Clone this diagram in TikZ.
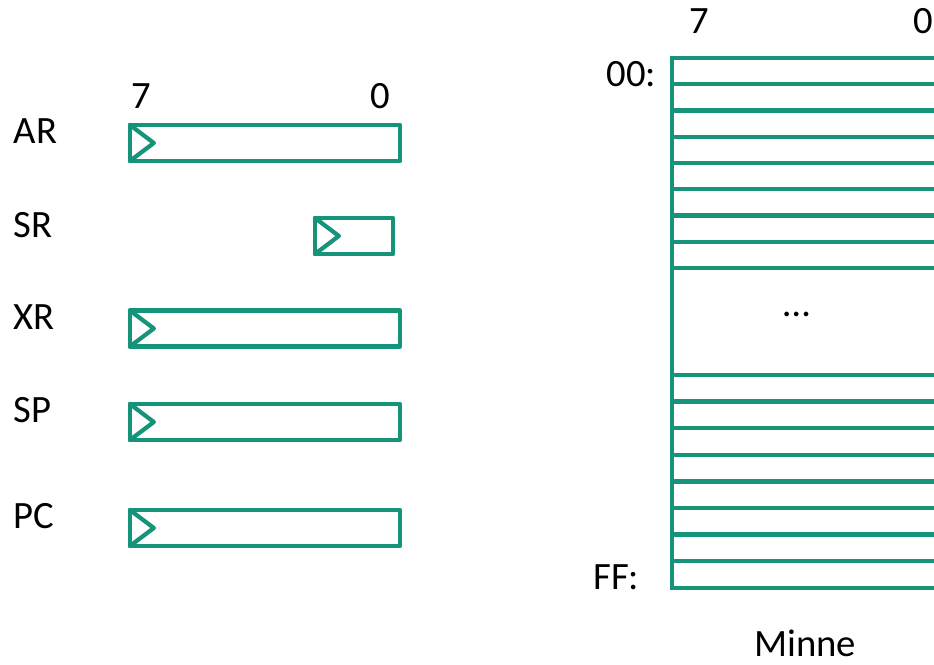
\documentclass[tikz,border=0pt]{standalone}
\usepackage{fontspec}
\setmainfont{Carlito}
\definecolor{regfarge}{RGB}{22,148,122}

\begin{document}
\begin{tikzpicture}[x=0.01cm,y=-0.01cm,
  reg/.style={draw=regfarge,line width=1.2pt,line join=round,minimum height=0.36cm,inner sep=0pt},
  linje/.style={draw=regfarge,line width=1.2pt,line join=round},
  tekst/.style={inner sep=0pt,font=\fontsize{11}{13}\selectfont}]
\useasboundingbox (0,0) rectangle (934,665);
\clip (0,0) rectangle (934,665);
% registre
\foreach \navn/\y in {AR/143,XR/328.5,SP/422,PC/528}
  \node[reg,minimum width=2.7cm] (\navn) at (265,\y) {};
\node[reg,minimum width=0.78cm] (SR) at (354,236) {};
% trekant i hvert register
\foreach \navn in {AR,SR,XR,SP,PC}
  \draw[linje,line cap=round] ([shift={(0.6pt,-0.6pt)}]\navn.north west)
    -- ([xshift=0.26cm]\navn.west) -- ([shift={(0.6pt,0.6pt)}]\navn.south west);
\foreach \navn/\y in {AR/144,SR/238,XR/330,SP/423,PC/529}
  \node[tekst,anchor=base west] (t\navn) at (13,\y) {\navn};
\node[tekst,anchor=base] (b7) at (141.5,109) {7};
\node[tekst,anchor=base] (b0) at (380,109) {0};
% tegn minnet
\coordinate (m00) at (672,58);
\coordinate (mFF) at (672,588);
\draw[linje,line cap=rect] (m00) -- (mFF);
\foreach \i in {0,...,8} {
  \draw[linje,line cap=rect] (672,{58+26.25*\i}) -- ++(300,0);
  \draw[linje,line cap=rect] (672,{375+26.6*\i}) -- ++(300,0);
}
\node[tekst,anchor=base] (m7) at (699.5,34) {7};
\node[tekst,anchor=base] (m0) at (923,34) {0};
\node[tekst,anchor=base east] (a00) at (657,87) {00:};
\node[tekst,anchor=base east] (aFF) at (640,590) {FF:};
\node[tekst,anchor=base] (prikker) at (797,317) {…};
\node[tekst,anchor=base] (minne) at (805,657) {Minne};
\end{tikzpicture}
\end{document}
